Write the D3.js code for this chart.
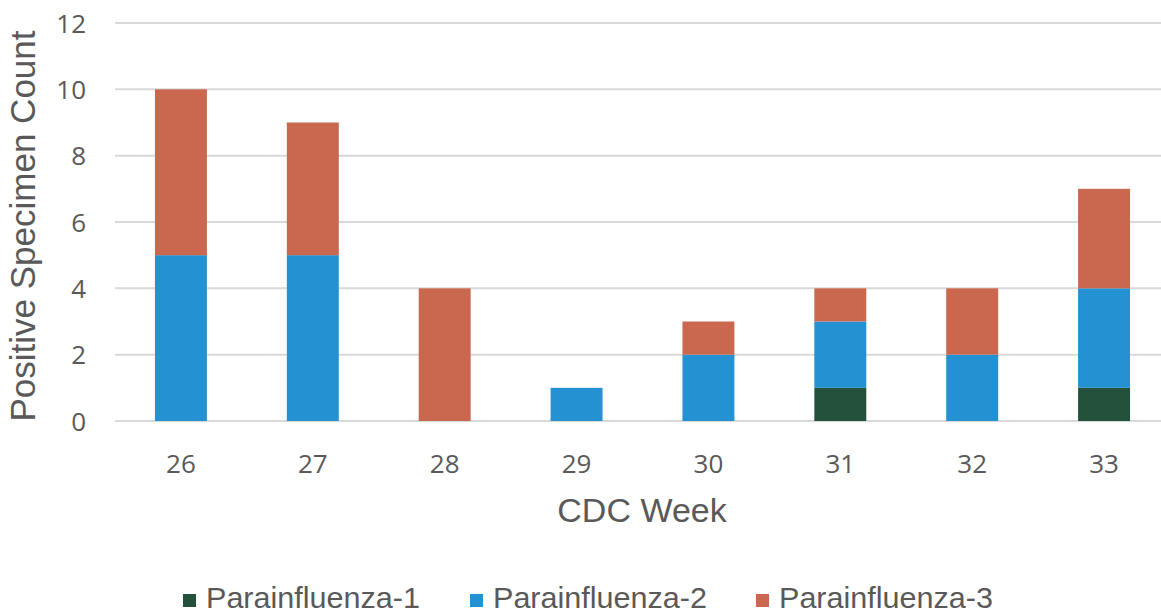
<!DOCTYPE html>
<html><head><meta charset="utf-8">
<script src="https://cdn.jsdelivr.net/npm/d3@7/dist/d3.min.js"></script>
<style>body{margin:0;background:#fff}svg{display:block}</style>
</head><body>
<svg id="chart" width="1161" height="614"></svg>
<script>
const weeks = ["26","27","28","29","30","31","32","33"];
const seriesNames = ["Parainfluenza-1","Parainfluenza-2","Parainfluenza-3"];
const para1 = [0,0,0,0,0,1,0,1];
const para2 = [5,5,0,1,2,2,2,3];
const para3 = [5,4,4,0,1,1,2,3];
const yTicks = [0,2,4,6,8,10,12];
const colors = ["#24513C","#2491D2","#C9684F"];

const rows = weeks.map((w,i)=>({week:w, "Parainfluenza-1":para1[i], "Parainfluenza-2":para2[i], "Parainfluenza-3":para3[i]}));
const stack = d3.stack().keys(seriesNames)(rows);

const svg = d3.select("#chart");
const x = d3.scaleBand().domain(weeks).range([115,1170]).paddingInner(0.606).paddingOuter(0.303);
const y = d3.scaleLinear().domain([0,12]).range([421,23]);

const grid = svg.append("g");
grid.selectAll("line").data(yTicks).join("line")
  .attr("x1",115).attr("x2",1161)
  .attr("y1",d=>y(d)).attr("y2",d=>y(d))
  .attr("stroke","#d9d9d9").attr("stroke-width",2);

const yAxis = svg.append("g").attr("transform","translate(86,0)")
  .call(d3.axisLeft(y).tickValues(yTicks).tickSize(0).tickPadding(0));
yAxis.select(".domain").remove();
yAxis.selectAll("text").attr("font-family","'Open Sans'").attr("font-size",26).attr("fill","#595959").attr("dy","0.35em");

const xAxis = svg.append("g").attr("transform","translate(0,421)")
  .call(d3.axisBottom(x).tickSize(0).tickPadding(0));
xAxis.select(".domain").remove();
xAxis.selectAll("text").attr("font-family","'Open Sans'").attr("font-size",26).attr("fill","#595959").attr("y",0).attr("dy",52);

svg.append("g").selectAll("g").data(stack).join("g")
  .attr("fill",(d,i)=>colors[i])
  .selectAll("rect").data(d=>d).join("rect")
  .attr("x",d=>x(d.data.week)).attr("width",x.bandwidth())
  .attr("y",d=>y(d[1])).attr("height",d=>y(d[0])-y(d[1]));

svg.append("text").attr("x",642).attr("y",522).attr("text-anchor","middle")
  .attr("font-family","'Liberation Sans', Arial, sans-serif").attr("font-size",34).attr("fill","#595959").text("CDC Week");
svg.append("text").attr("transform","translate(35,226) rotate(-90)").attr("text-anchor","middle")
  .attr("font-family","'Liberation Sans', Arial, sans-serif").attr("font-size",35).attr("fill","#595959").text("Positive Specimen Count");

const legX = [183,470,756];
const lg = svg.append("g").selectAll("g").data(seriesNames).join("g")
  .attr("transform",(d,i)=>`translate(${legX[i]},0)`);
lg.append("rect").attr("x",0).attr("y",594).attr("width",13).attr("height",13).attr("fill",(d,i)=>colors[i]);
lg.append("text").attr("x",23).attr("y",608)
  .attr("font-family","'Liberation Sans', Arial, sans-serif").attr("font-size",29).attr("fill","#595959")
  .attr("textLength",214).attr("lengthAdjust","spacingAndGlyphs").text(d=>d);
</script>
</body></html>
